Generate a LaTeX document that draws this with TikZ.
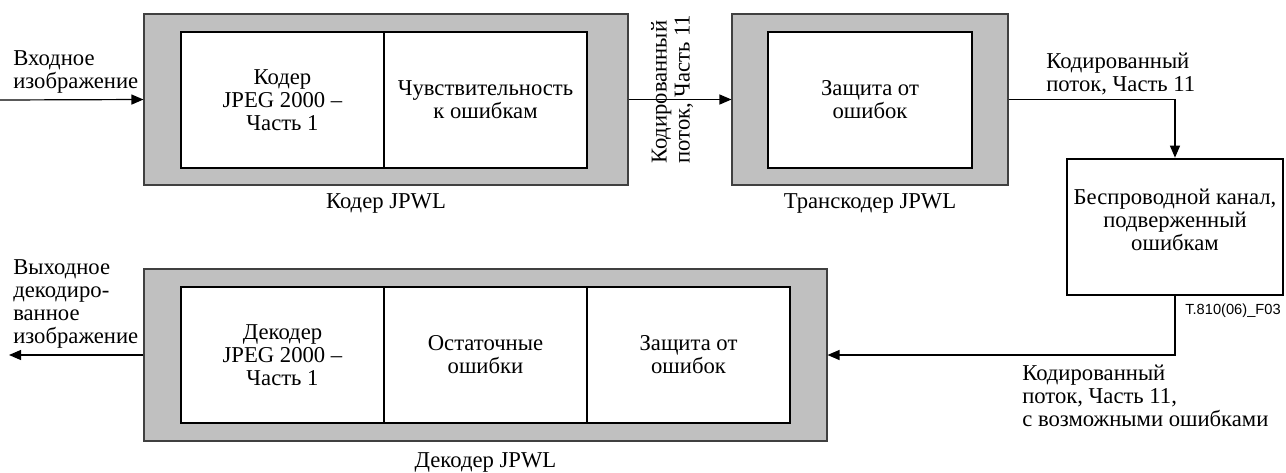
\documentclass[tikz,border=0pt]{standalone}
\usepackage{fontspec}
\setmainfont{Liberation Serif}
\newfontfamily\tagfont{Liberation Sans}
\usetikzlibrary{arrows.meta}
\definecolor{shellgray}{RGB}{192,192,192}

\begin{document}
\begin{tikzpicture}[x=0.75pt,y=-0.75pt,
  every node/.style={font=\fontsize{17}{17.25}\selectfont, align=center, inner sep=0pt},
  shell/.style={draw=black!75, line width=0.8pt, fill=shellgray, minimum height=128.25pt},
  part/.style={draw=black, line width=1.7pt, fill=white, minimum width=152.25pt, minimum height=102pt},
  channel/.style={draw=black, line width=2pt, fill=white, minimum width=162pt, minimum height=102pt},
  caption/.style={align=left},
  arr/.style={line width=0.9pt, -{Triangle[length=9pt,width=7.5pt]}}
]
\useasboundingbox (0,0) rectangle (1286,472);

% JPWL encoder
\node[shell, minimum width=363pt] (enc) at (386,99.5) {};
\node[part] (encA) at (282.5,100) {Кодер\\JPEG 2000 –\\Часть 1};
\node[part] (encB) at (485.5,100) {Чувствительность\\к ошибкам};
\node (encL) at (386,203) {Кодер JPWL};

% JPWL transcoder
\node[shell, minimum width=207pt] (trans) at (870,99.5) {};
\node[part, minimum width=153pt] (transA) at (870,100) {Защита от\\ошибок};
\node (transL) at (870,203) {Транскодер JPWL};

% Error-prone wireless channel
\node[channel] (chan) at (1175,227) {};
\node (chanT) at (1175,220) {Беспроводной канал,\\подверженный\\ошибкам};
\node[font=\tagfont\fontsize{11}{13}\selectfont] (tag) at (1233,311) {T.810(06)\_F03};

% JPWL decoder
\node[shell, minimum width=512.25pt, minimum height=129pt] (dec) at (485.5,355) {};
\node[part] (decA) at (282.5,355) {Декодер\\JPEG 2000 –\\Часть 1};
\node[part] (decB) at (485.5,355) {Остаточные\\ошибки};
\node[part] (decC) at (688.5,355) {Защита от\\ошибок};
\node (decL) at (485.5,462) {Декодер JPWL};

% Flow labels
\node[caption, anchor=west] (inL) at (13,72) {Входное\\изображение};
\node[caption, anchor=west, rotate=90] (midL) at (672,164) {Кодированный\\поток, Часть 11};
\node[caption, anchor=west] (topL) at (1046,74) {Кодированный\\поток, Часть 11};
\node[caption, anchor=west] (outL) at (13,304) {Выходное\\декодиро-\\ванное\\изображение};
\node[caption, anchor=west] (botL) at (1022,396) {Кодированный\\поток, Часть 11,\\с возможными ошибками};

% Connectors
\coordinate (src) at (0,100);
\coordinate (sink) at (9,355);
\draw[arr] (src) -- (enc.west);
\draw[arr] (enc.east) -- (trans.west);
\draw[arr] (trans.east) -| (chan.north);
\draw[arr] (chan.south) |- (dec.east);
\draw[arr] (dec.west) -- (sink);
\end{tikzpicture}
\end{document}
